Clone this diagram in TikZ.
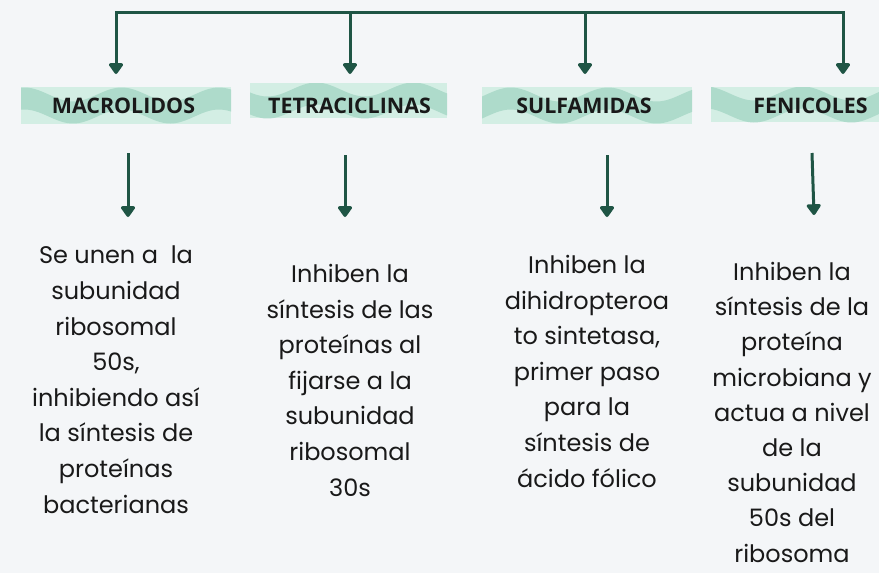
\documentclass[tikz,border=0pt]{standalone}
\usepackage{fontspec}
\setmainfont{Poppins}
\newfontfamily\bannerfont{Open Sans}
\usetikzlibrary{arrows.meta}
\definecolor{bgcol}{HTML}{F4F6F8}
\definecolor{arrcol}{HTML}{1F5545}
\definecolor{wavelight}{HTML}{D3EEE4}
\definecolor{wavedark}{HTML}{AEDBCB}
\tikzset{
  arr/.style={line width=3pt, draw=arrcol, -{Triangle[width=16pt,length=12pt,round]}},
  lbl/.style={font=\bannerfont\bfseries\fontsize{21.4}{24}\selectfont, text=black!90, inner sep=0pt},
  desc/.style={font=\fontsize{24}{35.6}\selectfont, align=center, anchor=north, inner sep=0pt, text=black!90}
}
% name, x1, y1, x2, y2, label x, label
\newcommand{\bannernode}[7]{
  \begin{scope}
    \clip (#2,#3) rectangle (#4,#5);
    \fill[wavelight] (#2,#3) rectangle (#4,#5);
    \fill[wavedark] plot[domain=#2:#4,samples=60] (\x,{(#3+#5)/2-11-7*sin(3.7*\x)})
      -- plot[domain=#4:#2,samples=60] (\x,{(#3+#5)/2+11-7*sin(3.7*\x)}) -- cycle;
  \end{scope}
  \node[lbl] (#1) at (#6,105.5) {#7};
}

\begin{document}
\begin{tikzpicture}[x=1pt,y=-1pt]
\fill[bgcol] (0,0) rectangle (879,573);
\useasboundingbox (0,0) rectangle (879,573);

%banners
\bannernode{macro}{21}{87}{231}{124}{123.5}{MACROLIDOS}
\bannernode{tetra}{250}{83}{447}{118}{349.5}{TETRACICLINAS}
\bannernode{sulfa}{482}{87}{692}{124}{584}{SULFAMIDAS}
\bannernode{feni}{711}{87}{879}{122}{810.5}{FENICOLES}

%top connectors
\coordinate (t1) at (116,12);
\coordinate (t2) at (350,12);
\coordinate (t3) at (585,12);
\coordinate (t4) at (843,12);
\coordinate (a1) at (116,74);
\coordinate (a2) at (350,74);
\coordinate (a3) at (585,74);
\coordinate (a4) at (843,74);
\draw[line width=3pt, arrcol, line cap=rect] (t1) -- (t4);
\draw[arr] (t1) -- (a1);
\draw[arr] (t2) -- (a2);
\draw[arr] (t3) -- (a3);
\draw[arr] (t4) -- (a4);

%lower connectors
\coordinate (s1) at (128,153);
\coordinate (s2) at (345,155);
\coordinate (s3) at (607,155);
\coordinate (s4) at (812,153);
\coordinate (e1) at (128,217);
\coordinate (e2) at (345,217);
\coordinate (e3) at (607,217);
\coordinate (e4) at (814,215);
\draw[arr] (s1) -- (e1);
\draw[arr] (s2) -- (e2);
\draw[arr] (s3) -- (e3);
\draw[arr] (s4) -- (e4);

%texts
\node[desc] (macrotxt) at (116,246) {Se unen a\ \ la\\subunidad\\ribosomal\\50s,\\inhibiendo así\\la síntesis de\\proteínas\\bacterianas};
\node[desc] (tetratxt) at (350,264) {Inhiben la\\síntesis de las\\proteínas al\\fijarse a la\\subunidad\\ribosomal\\30s};
\node[desc] (sulfatxt) at (587,255) {Inhiben la\\dihidropteroa\\to sintetasa,\\primer paso\\para la\\síntesis de\\ácido fólico};
\node[desc, font=\fontsize{24}{35.2}\selectfont] (fenitxt) at (792,262) {Inhiben la\\síntesis de la\\proteína\\microbiana y\\actua a nivel\\de la\\subunidad\\50s del\\ribosoma};
\end{tikzpicture}
\end{document}
